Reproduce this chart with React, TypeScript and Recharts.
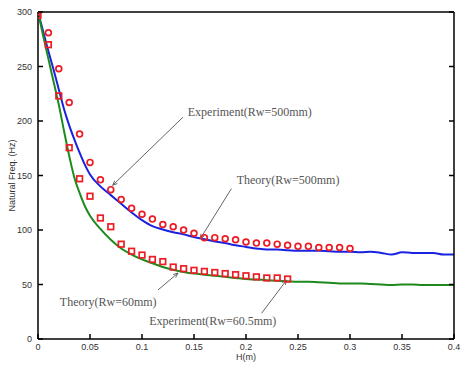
import React from 'react';
import {
    ComposedChart,
    Line,
    Scatter,
    XAxis,
    YAxis,
    ReferenceLine,
    ReferenceDot
} from 'recharts';

// H (m) grid for the two theory curves
const theoryH = [
    0, 0.005, 0.01, 0.015, 0.02, 0.025, 0.03, 0.035, 0.04, 0.045, 0.05,
    0.06, 0.07, 0.08, 0.09, 0.1, 0.11, 0.12, 0.13, 0.14, 0.15, 0.16, 0.17, 0.18, 0.19, 0.2,
    0.21, 0.22, 0.23, 0.24, 0.25, 0.26, 0.27, 0.28, 0.29, 0.3,
    0.31, 0.32, 0.33, 0.34, 0.35, 0.36, 0.37, 0.38, 0.39, 0.4
];
const theory500 = [
    300, 282, 264, 247, 229, 211, 196, 183, 171, 160, 151,
    140, 132, 124, 116, 109, 103.5, 100.5, 98, 96, 93.5, 91.5, 89.5, 88, 86, 84.5,
    83, 82, 82, 81.5, 81, 81, 81, 80.5, 80, 80,
    79.5, 80, 79, 77.5, 79.5, 79, 79, 79, 77.5, 77.5
];
const theory60 = [
    300, 278, 257, 236, 215, 191, 168, 148, 134, 122, 113,
    101, 91, 83, 77.5, 73, 69.5, 66, 63.5, 61.5, 60, 59, 58, 57, 56, 55,
    54.5, 54, 53.5, 53, 52.5, 52.5, 52, 51.5, 51, 51,
    51, 50.5, 50, 49.5, 50, 50, 49.5, 49.5, 49.5, 49.5
];

// measured points
const exp500H = [
    0, 0.01, 0.02, 0.03, 0.04, 0.05, 0.06, 0.07, 0.08, 0.09, 0.1,
    0.11, 0.12, 0.13, 0.14, 0.15, 0.16, 0.17, 0.18, 0.19, 0.2,
    0.21, 0.22, 0.23, 0.24, 0.25, 0.26, 0.27, 0.28, 0.29, 0.3
];
const exp500 = [
    300, 281, 248, 217, 188, 162, 146, 137, 128, 120, 114.5,
    110, 105, 103, 100, 97, 93, 93, 92, 91, 89,
    88, 88, 87, 86, 85, 85, 84, 84, 84, 83
];
const exp60H = [
    0, 0.01, 0.02, 0.03, 0.04, 0.05, 0.06, 0.07, 0.08, 0.09, 0.1,
    0.11, 0.12, 0.13, 0.14, 0.15, 0.16, 0.17, 0.18, 0.19, 0.2,
    0.21, 0.22, 0.23, 0.24
];
const exp60 = [
    297, 270, 223, 175.5, 147, 131, 111, 103, 87, 80.5, 77,
    73, 71, 66, 64.5, 63, 62, 61, 60, 59, 58,
    57, 56, 56, 55
];

const xTicks = [0, 0.05, 0.1, 0.15, 0.2, 0.25, 0.3, 0.35, 0.4];
const yTicks = [0, 50, 100, 150, 200, 250, 300];

// annotation: label anchor (left edge, middle) and arrow from -> to, in data units
const notes = [
    { text: 'Experiment(Rw=500mm)', tx: 0.144, ty: 208, from: [0.1394, 203.5], to: [0.0718, 141] },
    { text: 'Theory(Rw=500mm)', tx: 0.191, ty: 146, from: [0.186, 138], to: [0.156, 92] },
    { text: 'Theory(Rw=60mm)', tx: 0.021, ty: 34, from: [0.1154, 45], to: [0.1346, 60.5] },
    { text: 'Experiment(Rw=60.5mm)', tx: 0.107, ty: 16.5, from: [0.215, 23.6], to: [0.239, 54] }
];

const zip = (xs: number[], ys: number[]) => xs.map((x, i) => ({ x, y: ys[i] }));

const RED = '#ec1c24';
const FONT = 'Liberation Sans, Arial, sans-serif';
const axisFont = { fontSize: 9, fill: '#333', fontFamily: FONT };
const TICK = 5;
const X_GAP = 8;
const Y_GAP = 6;

// MATLAB-style ticks pointing into the plot, drawn along with the label
const BottomTick = (props: any) => {
    const { x, y, payload } = props;
    const axisY = y - X_GAP;
    return (
        <g>
            <line x1={x} y1={axisY} x2={x} y2={axisY - TICK} stroke="#000" strokeWidth={1.5} />
            <text x={x} y={y} textAnchor="middle" dominantBaseline="central" {...axisFont}>
                {payload.value}
            </text>
        </g>
    );
};

const TopTick = (props: any) => (
    <line x1={props.x} y1={props.y} x2={props.x} y2={props.y + TICK} stroke="#000" strokeWidth={1.5} />
);

const LeftTick = (props: any) => {
    const { x, y, payload } = props;
    const axisX = x + Y_GAP;
    return (
        <g>
            <line x1={axisX} y1={y} x2={axisX + TICK} y2={y} stroke="#000" strokeWidth={1.5} />
            <text x={x} y={y} textAnchor="end" dominantBaseline="central" {...axisFont}>
                {payload.value}
            </text>
        </g>
    );
};

const RightTick = (props: any) => (
    <line x1={props.x} y1={props.y} x2={props.x - TICK} y2={props.y} stroke="#000" strokeWidth={1.5} />
);

const XTitle = (props: any) => {
    const vb = props.viewBox || { x: 38, y: 339, width: 416, height: 20 };
    return (
        <text x={vb.x + vb.width / 2} y={357} textAnchor="middle" dominantBaseline="central" {...axisFont}>
            H(m)
        </text>
    );
};

const Circle = (props: any) => (
    <circle cx={props.cx} cy={props.cy} r={2.9} fill="none" stroke={RED} strokeWidth={1.7} />
);

const Square = (props: any) => (
    <rect x={props.cx - 2.8} y={props.cy - 2.8} width={5.6} height={5.6} fill="none" stroke={RED} strokeWidth={1.7} />
);

const Arrow = (props: any) => {
    const { x1, y1, x2, y2 } = props;
    const a = Math.atan2(y2 - y1, x2 - x1);
    const len = 5;
    const p1 = [x2 - len * Math.cos(a - 0.4), y2 - len * Math.sin(a - 0.4)];
    const p2 = [x2 - len * Math.cos(a + 0.4), y2 - len * Math.sin(a + 0.4)];
    return (
        <g stroke="#666" strokeWidth={1} fill="none">
            <line x1={x1} y1={y1} x2={x2} y2={y2} />
            <polyline points={`${p1[0]},${p1[1]} ${x2},${y2} ${p2[0]},${p2[1]}`} />
        </g>
    );
};

const NoteText = (text: string) => (props: any) => (
    <text
        x={props.cx}
        y={props.cy}
        dominantBaseline="central"
        fontSize={12}
        fill="#555"
        fontFamily="Liberation Serif, Times New Roman, serif"
    >
        {text}
    </text>
);

const YTitle = (props: any) => {
    const vb = props.viewBox || { x: 8, y: 11, width: 30, height: 328 };
    const cx = vb.x + 4;
    const cy = vb.y + vb.height / 2;
    return (
        <text
            x={cx}
            y={cy}
            transform={`rotate(-90 ${cx} ${cy})`}
            textAnchor="middle"
            dominantBaseline="central"
            {...axisFont}
        >
            Natural Freq. (Hz)
        </text>
    );
};

const App = () => {
    return (
        <div style={{ position: 'absolute', left: 0, top: 0, background: '#fff' }}>
            <ComposedChart width={461} height={365} margin={{ top: 11, right: 6, left: 8, bottom: 6 }}>
                <XAxis
                    dataKey="x"
                    type="number"
                    domain={[0, 0.4]}
                    ticks={xTicks}
                    interval={0}
                    allowDataOverflow
                    height={20}
                    stroke="#000"
                    strokeWidth={1.5}
                    tickLine={false}
                    tickSize={0}
                    tickMargin={X_GAP}
                    tick={BottomTick}
                    label={<XTitle />}
                />
                <XAxis
                    xAxisId="top"
                    orientation="top"
                    type="number"
                    domain={[0, 0.4]}
                    ticks={xTicks}
                    interval={0}
                    allowDataOverflow
                    height={1}
                    stroke="#000"
                    strokeWidth={1.5}
                    tickLine={false}
                    tickSize={0}
                    tickMargin={0}
                    tick={TopTick}
                />
                <YAxis
                    dataKey="y"
                    type="number"
                    domain={[0, 300]}
                    ticks={yTicks}
                    interval={0}
                    allowDataOverflow
                    width={30}
                    stroke="#000"
                    strokeWidth={1.5}
                    tickLine={false}
                    tickSize={0}
                    tickMargin={Y_GAP}
                    tick={LeftTick}
                    label={<YTitle />}
                />
                <YAxis
                    yAxisId="right"
                    orientation="right"
                    type="number"
                    domain={[0, 300]}
                    ticks={yTicks}
                    interval={0}
                    allowDataOverflow
                    width={1}
                    stroke="#000"
                    strokeWidth={1.5}
                    tickLine={false}
                    tickSize={0}
                    tickMargin={0}
                    tick={RightTick}
                />

                <Line
                    data={zip(theoryH, theory500)}
                    dataKey="y"
                    type="monotone"
                    stroke="#1a22e0"
                    strokeWidth={2}
                    dot={false}
                    isAnimationActive={false}
                />
                <Line
                    data={zip(theoryH, theory60)}
                    dataKey="y"
                    type="monotone"
                    stroke="#1e8a1e"
                    strokeWidth={2}
                    dot={false}
                    isAnimationActive={false}
                />
                <Scatter data={zip(exp500H, exp500)} dataKey="y" shape={Circle} isAnimationActive={false} />
                <Scatter data={zip(exp60H, exp60)} dataKey="y" shape={Square} isAnimationActive={false} />

                {notes.map((n) => (
                    <ReferenceLine
                        key={'a' + n.text}
                        segment={[{ x: n.from[0], y: n.from[1] }, { x: n.to[0], y: n.to[1] }]}
                        shape={Arrow}
                        ifOverflow="visible"
                    />
                ))}
                {notes.map((n) => (
                    <ReferenceDot
                        key={'t' + n.text}
                        x={n.tx}
                        y={n.ty}
                        r={0}
                        shape={NoteText(n.text)}
                        ifOverflow="visible"
                    />
                ))}
            </ComposedChart>
        </div>
    );
};

export default App;
